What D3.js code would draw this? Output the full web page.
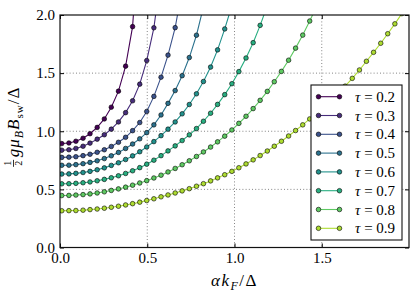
<!DOCTYPE html>
<html>
<head>
<meta charset="utf-8">
<style>
    body { margin: 0; background: #fff; }
    svg text { font-family: "Liberation Serif", "DejaVu Serif", serif; fill: #000; }
</style>
</head>
<body>
<svg width="416" height="298"></svg>
<script src="https://cdn.jsdelivr.net/npm/d3@7"></script>
<script>
    // alpha k_F / Delta of every computed point
    let alphaKF = [0.010, 0.051, 0.091, 0.132, 0.172, 0.213, 0.254, 0.294, 0.335, 0.376,
        0.416, 0.457, 0.497, 0.538, 0.579, 0.619, 0.660, 0.700, 0.741, 0.782,
        0.822, 0.863, 0.903, 0.944, 0.985, 1.025, 1.066, 1.107, 1.147, 1.188,
        1.228, 1.269, 1.310, 1.350, 1.391, 1.431, 1.472, 1.513, 1.553, 1.594,
        1.634, 1.675, 1.716, 1.756, 1.797, 1.838, 1.878, 1.919, 1.959, 2.000];

    let taus = [0.2, 0.3, 0.4, 0.5, 0.6, 0.7, 0.8, 0.9];

    // switching field, one list per tau (last point of each leaves the plot)
    let tau02 = [0.894, 0.899, 0.914, 0.940, 0.979, 1.033, 1.106, 1.207, 1.345, 1.560, 1.900, 2.800];
    let tau03 = [0.837, 0.841, 0.852, 0.871, 0.898, 0.932, 0.970, 1.018, 1.080, 1.160, 1.262, 1.405, 1.608, 1.890, 2.350];
    let tau04 = [0.775, 0.777, 0.781, 0.790, 0.802, 0.819, 0.841, 0.869, 0.905, 0.948, 1.005, 1.075, 1.170, 1.300,
        1.465, 1.655, 1.891, 2.220];
    let tau05 = [0.707, 0.708, 0.713, 0.721, 0.732, 0.746, 0.765, 0.789, 0.818, 0.852, 0.890, 0.935, 0.988, 1.055,
        1.140, 1.240, 1.350, 1.478, 1.634, 1.826, 2.070];
    let tau06 = [0.632, 0.633, 0.638, 0.645, 0.655, 0.669, 0.685, 0.706, 0.729, 0.757, 0.788, 0.824, 0.865, 0.911,
        0.962, 1.018, 1.080, 1.150, 1.230, 1.322, 1.428, 1.552, 1.700, 1.880, 2.080];
    let tau07 = [0.548, 0.549, 0.552, 0.557, 0.564, 0.574, 0.586, 0.600, 0.617, 0.637, 0.660, 0.687, 0.717, 0.751,
        0.790, 0.831, 0.874, 0.920, 0.969, 1.023, 1.086, 1.155, 1.231, 1.315, 1.409, 1.513, 1.630, 1.762, 1.911, 2.080];
    let tau08 = [0.447, 0.448, 0.451, 0.455, 0.461, 0.469, 0.479, 0.491, 0.504, 0.519, 0.536, 0.555, 0.575, 0.598,
        0.622, 0.650, 0.680, 0.712, 0.746, 0.783, 0.822, 0.864, 0.909, 0.958, 1.011, 1.068, 1.129, 1.195, 1.266,
        1.343, 1.426, 1.515, 1.611, 1.715, 1.827, 1.948, 2.080];
    let tau09 = [0.316, 0.317, 0.318, 0.321, 0.326, 0.331, 0.338, 0.346, 0.355, 0.366, 0.377, 0.390, 0.404, 0.419,
        0.436, 0.452, 0.469, 0.487, 0.506, 0.527, 0.549, 0.573, 0.599, 0.626, 0.655, 0.686, 0.719, 0.754, 0.791,
        0.830, 0.871, 0.914, 0.959, 1.006, 1.055, 1.106, 1.159, 1.213, 1.268, 1.326, 1.388, 1.455, 1.527, 1.602,
        1.679, 1.757, 1.839, 1.924, 2.012, 2.104];

    let series = [tau02, tau03, tau04, tau05, tau06, tau07, tau08, tau09];

    let xTicks = [0, 0.5, 1.0, 1.5];
    let yTicks = [0, 0.5, 1.0, 1.5, 2.0];

    let svg = d3.select("svg");

    let x = d3.scaleLinear().domain([0, 2]).range([60, 409]);
    let y = d3.scaleLinear().domain([0, 2]).range([247.5, 15]);
    let color = i => d3.interpolateViridis(i / 8);

    svg.append("clipPath").attr("id", "plotclip")
        .append("rect")
        .attr("x", 60).attr("y", 15)
        .attr("width", 349).attr("height", 232.5);

    // dotted grid
    let grid = svg.append("g").attr("stroke", "#666").attr("stroke-width", 0.8)
        .attr("stroke-dasharray", "1,2.2");
    grid.selectAll(".gx").data(xTicks.slice(1)).enter().append("line")
        .attr("x1", d => x(d)).attr("x2", d => x(d))
        .attr("y1", 15).attr("y2", 247.5);
    grid.selectAll(".gy").data(yTicks.slice(1, 4)).enter().append("line")
        .attr("x1", 60).attr("x2", 409)
        .attr("y1", d => y(d)).attr("y2", d => y(d));

    // curves with markers
    let plot = svg.append("g").attr("clip-path", "url(#plotclip)");
    let line = d3.line().x(d => x(d[0])).y(d => y(d[1]));

    series.forEach((vals, k) => {
        let pts = vals.map((v, i) => [alphaKF[i], v]);
        let g = plot.append("g");
        g.append("path").datum(pts)
            .attr("d", line)
            .attr("fill", "none")
            .attr("stroke", color(k))
            .attr("stroke-width", 1.1);
        g.selectAll("circle").data(pts).enter().append("circle")
            .attr("cx", d => x(d[0]))
            .attr("cy", d => y(d[1]))
            .attr("r", 2.3)
            .attr("fill", color(k))
            .attr("stroke", "#000")
            .attr("stroke-width", 0.6);
    });

    // axes, ticks pointing inwards on all four sides
    let axB = svg.append("g").attr("transform", "translate(0,247.5)")
        .call(d3.axisBottom(x).tickValues(xTicks).tickSize(-4).tickPadding(5).tickFormat(d3.format(".1f")));
    let axT = svg.append("g").attr("transform", "translate(0,15)")
        .call(d3.axisTop(x).tickValues(xTicks).tickSize(-4).tickFormat(""));
    let axL = svg.append("g").attr("transform", "translate(60,0)")
        .call(d3.axisLeft(y).tickValues(yTicks).tickSize(-4).tickPadding(5).tickFormat(d3.format(".1f")));
    let axR = svg.append("g").attr("transform", "translate(409,0)")
        .call(d3.axisRight(y).tickValues(yTicks).tickSize(-4).tickFormat(""));

    [axB, axT, axL, axR].forEach(a => {
        a.select(".domain").remove();
        a.selectAll("line").attr("stroke", "#000");
        a.selectAll("text").attr("font-size", 15)
            .attr("font-family", "Liberation Serif, serif");
    });

    svg.append("rect")
        .attr("x", 60).attr("y", 15)
        .attr("width", 349).attr("height", 232.5)
        .attr("fill", "none")
        .attr("stroke", "#111")
        .attr("stroke-width", 1.2);

    // x label
    let xl = svg.append("text")
        .attr("x", 234.5).attr("y", 286)
        .attr("text-anchor", "middle")
        .attr("font-size", 17)
        .attr("letter-spacing", 1.5);
    xl.append("tspan").attr("font-style", "italic").text("αk");
    xl.append("tspan").attr("font-style", "italic").attr("font-size", 12).attr("dy", 4).text("F");
    xl.append("tspan").attr("dy", -4).text("/Δ");

    // y label
    let yl = svg.append("g");
    yl.append("text").attr("x", 4).attr("y", -8).attr("font-size", 10)
        .attr("text-anchor", "middle").text("1");
    yl.append("line").attr("x1", 0.5).attr("x2", 7.5).attr("y1", -5.5).attr("y2", -5.5)
        .attr("stroke", "#000").attr("stroke-width", 0.8);
    yl.append("text").attr("x", 4).attr("y", 3).attr("font-size", 10)
        .attr("text-anchor", "middle").text("2");
    let ym = yl.append("text").attr("x", 10).attr("y", 0).attr("font-size", 17)
        .attr("letter-spacing", 1);
    ym.append("tspan").attr("font-style", "italic").text("gμ");
    ym.append("tspan").attr("font-style", "italic").attr("font-size", 12).attr("dy", 4).text("B");
    ym.append("tspan").attr("font-style", "italic").attr("dy", -4).text("B");
    ym.append("tspan").attr("font-size", 11).attr("dy", 4).text("sw");
    ym.append("tspan").attr("dy", -4).text("/Δ");
    let yw = 10 + ym.node().getComputedTextLength();
    yl.attr("transform", "translate(19,127) rotate(-90) translate(" + (-yw / 2) + ",0)");

    // legend
    let leg = svg.append("g");
    leg.append("rect")
        .attr("x", 311).attr("y", 85)
        .attr("width", 91).attr("height", 155)
        .attr("fill", "#fff")
        .attr("stroke", "#111")
        .attr("stroke-width", 1.1);

    taus.forEach((t, k) => {
        let cy = 96.7 + k * 18.8;
        let row = leg.append("g");
        row.append("line")
            .attr("x1", 318.5).attr("x2", 339.5)
            .attr("y1", cy).attr("y2", cy)
            .attr("stroke", color(k)).attr("stroke-width", 1.1);
        row.selectAll("circle").data([318.5, 339.5]).enter().append("circle")
            .attr("cx", d => d).attr("cy", cy).attr("r", 2.3)
            .attr("fill", color(k))
            .attr("stroke", "#000").attr("stroke-width", 0.6);
        let tx = row.append("text")
            .attr("x", 355).attr("y", cy + 5)
            .attr("font-size", 15);
        tx.append("tspan").attr("font-style", "italic").text("τ");
        tx.append("tspan").text(" = " + t.toFixed(1));
    });
</script>
</body>
</html>
